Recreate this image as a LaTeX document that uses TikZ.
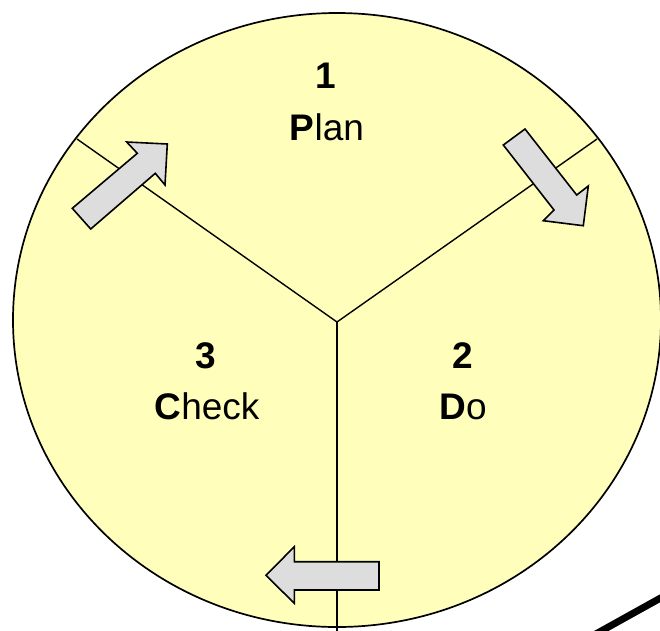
\documentclass[tikz,border=0pt]{standalone}
\usepackage{fontspec}
\setmainfont{Liberation Sans}
\definecolor{pdcayellow}{RGB}{255,255,187}
\definecolor{arrowgray}{RGB}{221,221,221}
\tikzset{
  disc/.style={fill=pdcayellow, draw=black, line width=1.7pt},
  divider/.style={draw=black, line width=1.4pt},
  flowarrow/.style={fill=arrowgray, draw=black, line width=1.6pt, line join=miter},
  label/.style={anchor=base, inner sep=0pt, font=\fontsize{37}{44}\selectfont},
  rule/.style={draw=black, line width=7pt}
}
\begin{document}
\begin{tikzpicture}[x=1pt, y=-1pt]
\useasboundingbox (0,0) rectangle (660,630);
\clip (0,0) rectangle (660,630);
% disc
\draw[disc] (337,320) ellipse [x radius=324pt, y radius=307pt];
% dividers
\coordinate (hub) at (337,322);
\coordinate (endL) at (77,139);
\coordinate (endR) at (597,139);
\coordinate (endB) at (337,632);
\draw[divider] (hub) -- (endL);
\draw[divider] (hub) -- (endR);
\draw[divider] (hub) -- (endB);
% arrows
\draw[flowarrow] (72.3,208.3) -- (137.3,153.3) -- (126.7,142) -- (167.3,144) -- (165,185) -- (155.3,173.3) -- (90.7,229) -- cycle;
\draw[flowarrow] (525,129) -- (576.7,195) -- (588.3,186) -- (583.3,225.7) -- (543.3,220.7) -- (554,210) -- (503.3,145) -- cycle;
\draw[flowarrow] (379,561.7) -- (294.3,561.7) -- (294.3,546.7) -- (266,575.3) -- (294.3,603.3) -- (294.3,590) -- (379,590) -- cycle;
% texts
\node[label] (n1) at (326,88) {\textbf{1}};
\node[label] (plan) at (327,140) {\textbf{P}lan};
\node[label] (n2) at (463,368) {\textbf{2}};
\node[label] (do) at (463,419) {\textbf{D}o};
\node[label] (n3) at (206,368) {\textbf{3}};
\node[label] (check) at (207,419) {\textbf{C}heck};
% black rule at bottom right
\coordinate (ruleA) at (585,640);
\coordinate (ruleB) at (675,590);
\draw[rule] (ruleA) -- (ruleB);
\end{tikzpicture}
\end{document}
